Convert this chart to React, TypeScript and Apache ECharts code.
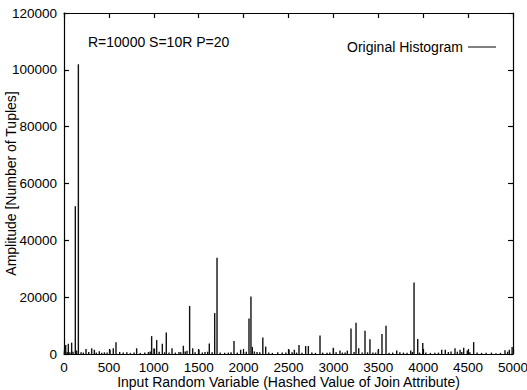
import React, { useEffect, useRef } from "react";
import * as echarts from "echarts";

// Hashed value positions and amplitudes of the visible spikes
const spikePos = [19, 48, 85, 126, 160, 245, 308, 338, 393, 512, 549, 579, 809, 976, 1002, 1032, 1095, 1139, 1203, 1329, 1399, 1433, 1503, 1618, 1678, 1704, 1893, 1967, 2060, 2082, 2097, 2214, 2246, 2506, 2565, 2617, 2691, 2721, 2851, 2999, 3073, 3155, 3196, 3252, 3282, 3352, 3407, 3500, 3541, 3586, 3705, 3861, 3898, 3939, 3995, 4206, 4246, 4354, 4410, 4451, 4491, 4562, 4911, 4959, 4990];
const spikeVal = [3200, 3600, 4000, 52000, 102000, 1800, 2000, 1500, 1000, 1500, 2000, 4100, 2000, 6300, 2000, 4900, 3600, 7600, 2000, 2900, 16900, 2000, 1500, 3700, 14400, 33900, 4600, 1500, 12500, 20200, 2500, 5800, 2600, 1500, 1500, 3200, 2800, 2800, 6500, 2200, 1200, 1200, 9000, 11000, 2000, 8200, 5200, 1500, 7000, 9900, 1200, 1200, 25200, 5300, 3900, 1500, 1500, 2000, 1500, 2200, 1200, 4200, 1300, 1500, 2500];

// Low-level background counts along the baseline
const noisePos = [5, 35, 65, 100, 140, 190, 215, 275, 360, 420, 450, 480, 620, 660, 700, 740, 780, 850, 900, 940, 960, 1060, 1120, 1170, 1240, 1280, 1300, 1350, 1370, 1460, 1540, 1570, 1600, 1650, 1740, 1790, 1830, 1860, 1930, 2000, 2030, 2120, 2150, 2180, 2280, 2320, 2380, 2430, 2470, 2540, 2590, 2650, 2760, 2800, 2880, 2930, 2960, 3030, 3100, 3130, 3230, 3320, 3380, 3440, 3470, 3620, 3660, 3740, 3780, 3820, 3880, 3960, 4030, 4080, 4130, 4170, 4280, 4310, 4380, 4430, 4520, 4600, 4650, 4700, 4760, 4810, 4860, 4940];
const noiseVal = [900, 700, 600, 800, 1200, 600, 500, 700, 500, 400, 600, 500, 700, 500, 600, 400, 500, 400, 500, 700, 900, 800, 600, 500, 500, 700, 600, 900, 1100, 600, 500, 700, 800, 600, 500, 400, 500, 600, 500, 700, 800, 900, 700, 600, 500, 400, 600, 500, 500, 600, 500, 400, 500, 400, 500, 400, 500, 600, 500, 500, 700, 500, 600, 500, 500, 400, 500, 600, 500, 400, 700, 500, 500, 400, 400, 500, 700, 900, 800, 700, 600, 500, 400, 400, 500, 300, 400, 800];

const xTicks = [0, 500, 1000, 1500, 2000, 2500, 3000, 3500, 4000, 4500, 5000];
const yTicks = [0, 20000, 40000, 60000, 80000, 100000, 120000];

const FONT = "Liberation Sans, Arial, sans-serif";
const FS = 14;
const TFS = 13.5;

export default function App() {
  const ref = useRef<HTMLDivElement>(null);
  useEffect(() => {
    if (!ref.current) return;
    const chart = echarts.init(ref.current, undefined, { renderer: "svg" });
    const data: [number, number][] = [];
    noisePos.forEach((p, i) => data.push([p, noiseVal[i]]));
    spikePos.forEach((p, i) => data.push([p, spikeVal[i]]));
    data.sort((a, b) => a[0] - b[0]);

    const axisCommon = () => ({
      axisLine: { show: true, onZero: false, lineStyle: { color: "#000", width: 1.2 } },
      axisTick: { show: true, inside: true, length: 5, lineStyle: { color: "#000", width: 1.2 } },
      splitLine: { show: false },
    });

    chart.setOption({
      animation: false,
      backgroundColor: "#fff",
      grid: { left: 64, right: 14, top: 13, bottom: 36, containLabel: false, outerBoundsMode: "none" },
      legend: {
        show: true,
        right: 26,
        top: 35,
        align: "right",
        icon: "rect",
        itemWidth: 28,
        itemHeight: 1,
        itemGap: 6,
        textStyle: { fontFamily: FONT, fontSize: FS, color: "#000" },
        data: [{ name: "Original Histogram", itemStyle: { color: "#000" } }],
      },
      graphic: [
        {
          type: "text",
          left: 88,
          top: 35,
          style: { text: "R=10000 S=10R P=20", font: `${FS}px ${FONT}`, fill: "#000" },
        },
      ],
      xAxis: [
        {
          type: "value",
          min: xTicks[0],
          max: xTicks[xTicks.length - 1],
          interval: 500,
          position: "bottom",
          name: "Input Random Variable (Hashed Value of Join Attribute)",
          nameLocation: "middle",
          nameGap: 21,
          nameMoveOverlap: false,
          nameTextStyle: { fontFamily: FONT, fontSize: FS, color: "#000", lineHeight: 14 },
          axisLabel: { fontFamily: FONT, fontSize: TFS, color: "#000", margin: 6, lineHeight: 14, formatter: (v: number) => String(v) },
          ...axisCommon(),
        },
        {
          type: "value",
          min: xTicks[0],
          max: xTicks[xTicks.length - 1],
          interval: 500,
          position: "top",
          axisLabel: { show: false },
          ...axisCommon(),
        },
      ],
      yAxis: [
        {
          type: "value",
          min: yTicks[0],
          max: yTicks[yTicks.length - 1],
          interval: 20000,
          position: "left",
          name: "Amplitude [Number of Tuples]",
          nameLocation: "middle",
          nameGap: 46,
          nameMoveOverlap: false,
          nameTextStyle: { fontFamily: FONT, fontSize: FS, color: "#000" },
          axisLabel: { fontFamily: FONT, fontSize: TFS, color: "#000", margin: 7, formatter: (v: number) => String(v) },
          ...axisCommon(),
        },
        {
          type: "value",
          min: yTicks[0],
          max: yTicks[yTicks.length - 1],
          interval: 20000,
          position: "right",
          axisLabel: { show: false },
          ...axisCommon(),
        },
      ],
      series: [
        {
          name: "Original Histogram",
          type: "bar",
          xAxisIndex: 0,
          yAxisIndex: 0,
          barWidth: 1.4,
          itemStyle: { color: "#111" },
          data,
        },
      ],
    });
    return () => chart.dispose();
  }, []);
  return <div ref={ref} style={{ position: "fixed", left: 0, top: 0, width: 527, height: 390 }} />;
}
